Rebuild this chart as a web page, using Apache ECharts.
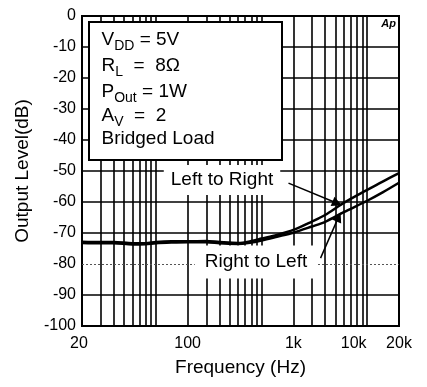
<!DOCTYPE html>
<html>
<head>
<meta charset="utf-8">
<script src="https://cdn.jsdelivr.net/npm/echarts@6/dist/echarts.min.js"></script>
<style>
html,body{margin:0;padding:0;background:#fff;}
#chart{width:427px;height:387px;}
</style>
</head>
<body>
<div id="chart"></div>
<script>
// ---- data (x values are in the plot's underlying log scale units) ----
const freq = [10, 15, 20, 30, 40, 50, 70, 100, 150, 200, 300, 400, 500, 700, 1000, 1500, 2000, 3000, 5000, 7000, 10000];
const leftToRight = [-72.8, -72.9, -72.9, -73.3, -73.3, -72.9, -72.7, -72.7, -72.6, -72.9, -73.2, -72.6, -71.8, -70.6, -69.0, -66.3, -64.2, -60.3, -56.1, -53.4, -50.7];
const rightToLeft = [-73.2, -73.3, -73.3, -73.7, -73.6, -73.3, -73.1, -73.0, -73.0, -73.3, -73.6, -73.1, -72.4, -71.2, -69.9, -67.9, -66.4, -63.3, -59.6, -56.9, -53.8];
const seriesNames = ['Left to Right', 'Right to Left'];

const xLabelValues = [10, 100, 1000, 5000, 10000];
const xLabelTexts = ['20', '100', '1k', '10k', '20k'];
const xGridValues = [15, 20, 25, 30, 35, 40, 45, 50, 100, 150, 200, 250, 300, 350, 400, 450, 500, 1000, 1500, 2000, 2500, 3000, 3500, 4000, 4500, 5000];
const yGridValues = [-90, -80, -70, -60, -50, -40, -30, -20, -10];

const legendLines = [
  ['V', 'DD', ' = 5V'],
  ['R', 'L', '  =  8Ω'],
  ['P', 'Out', ' = 1W'],
  ['A', 'V', '  =  2'],
  ['Bridged Load', '', '']
];
// arrow annotation end points [from, to] in data coords
const arrowLtoR = [[900, -53.9], [2600, -60.4]];
const arrowRtoL = [[1810, -78.1], [2680, -64.8]];

// ---- chart ----
const FONT = 'Liberation Sans, Arial, Helvetica, sans-serif';
const chart = echarts.init(document.getElementById('chart'), null, {renderer: 'canvas'});

function sameVal(a, b) { return Math.abs(Math.log10(a) - Math.log10(b)) < 1e-6; }

const gridLineData = [];
xGridValues.forEach(v => gridLineData.push({xAxis: v}));
yGridValues.forEach(v => {
  const item = {yAxis: v};
  if (v === -80) item.lineStyle = {type: [2, 2], color: '#555', width: 1};
  gridLineData.push(item);
});

function arrowMark(pts) {
  return {
    silent: true,
    symbol: ['none', 'triangle'],
    symbolSize: 10,
    label: {show: false},
    lineStyle: {color: '#000', width: 1.5, type: 'solid'},
    data: [[{coord: pts[0]}, {coord: pts[1]}]]
  };
}

const legendGraphics = legendLines.map((ln, i) => {
  const centers = [40, 66, 92, 116, 139];
  let txt = '{m|' + ln[0] + '}';
  if (ln[1]) txt += '{s|' + ln[1] + '}';
  if (ln[2]) txt += '{m|' + ln[2] + '}';
  return {
    type: 'text', x: 101.5, y: centers[i], z: 21,
    style: {
      text: txt, align: 'left', verticalAlign: 'middle',
      rich: {
        m: {fontSize: 19, fontFamily: FONT, fill: '#000', lineHeight: 20},
        s: {fontSize: 14, fontFamily: FONT, fill: '#000', lineHeight: 14, padding: [12, 0, 0, 0]}
      }
    }
  };
});

const option = {
  animation: false,
  backgroundColor: '#fff',
  grid: {left: 82, right: 28, top: 16, bottom: 61, show: true, borderColor: '#000', borderWidth: 2, backgroundColor: 'transparent'},
  xAxis: {
    type: 'log', logBase: 10, min: 10, max: 10000,
    name: 'Frequency (Hz)', nameLocation: 'middle', nameGap: 32,
    nameTextStyle: {fontSize: 19, fontFamily: FONT, color: '#000'},
    axisLine: {show: false},
    axisTick: {show: false},
    splitLine: {show: false},
    minorSplitLine: {show: false},
    axisLabel: {
      customValues: xLabelValues,
      fontSize: 16, fontFamily: FONT, color: '#000', margin: 10,
      formatter: function (value) {
        for (let i = 0; i < xLabelValues.length; i++) {
          if (sameVal(value, xLabelValues[i])) {
            const t = xLabelTexts[i];
            if (i === 0) return '{a|' + t + '}';
            if (i === 3) return '{b|' + t + '}';
            return '{n|' + t + '}';
          }
        }
        return '';
      },
      rich: {
        n: {fontSize: 16, fontFamily: FONT, color: '#000'},
        a: {fontSize: 16, fontFamily: FONT, color: '#000', padding: [0, 6, 0, 0]},
        b: {fontSize: 16, fontFamily: FONT, color: '#000', padding: [0, 27, 0, 0]}
      }
    }
  },
  yAxis: {
    type: 'value', min: -100, max: 0, interval: 10,
    name: 'Output Level(dB)', nameLocation: 'middle', nameGap: 50, nameRotate: 90,
    nameTextStyle: {fontSize: 19, fontFamily: FONT, color: '#000'},
    axisLine: {show: false},
    axisTick: {show: false},
    splitLine: {show: false},
    axisLabel: {fontSize: 16, fontFamily: FONT, color: '#000', margin: 6}
  },
  series: [
    {
      type: 'line', name: 'grid', data: [], z: 1, silent: true,
      markLine: {
        silent: true, symbol: 'none', label: {show: false},
        lineStyle: {color: '#000', width: 1.6, type: 'solid'},
        emphasis: {disabled: true},
        data: gridLineData
      }
    },
    {
      type: 'line', name: seriesNames[0], z: 5, silent: true,
      data: freq.map((f, i) => [f, leftToRight[i]]),
      showSymbol: false, smooth: 0.3,
      lineStyle: {color: '#000', width: 2.5},
      markLine: arrowMark(arrowLtoR)
    },
    {
      type: 'line', name: seriesNames[1], z: 5, silent: true,
      data: freq.map((f, i) => [f, rightToLeft[i]]),
      showSymbol: false, smooth: 0.3,
      lineStyle: {color: '#000', width: 2.5},
      markLine: arrowMark(arrowRtoL)
    }
  ],
  graphic: [
    {
      type: 'rect', z: 20,
      shape: {x: 89, y: 22, width: 193, height: 138},
      style: {fill: '#fff', stroke: '#000', lineWidth: 2}
    }
  ].concat(legendGraphics).concat([
    {
      type: 'text', x: 396, y: 24, z: 21,
      style: {text: 'Ap', align: 'right', verticalAlign: 'middle', font: 'italic bold 11px ' + FONT, fill: '#000'}
    },
    {
      type: 'text', x: 222, y: 180, z: 21,
      style: {
        text: seriesNames[0], align: 'center', verticalAlign: 'middle',
        fontSize: 19, fontFamily: FONT, fill: '#000', lineHeight: 20,
        backgroundColor: '#fff', padding: [5, 7, 5, 7]
      }
    },
    {
      type: 'text', x: 256, y: 262, z: 21,
      style: {
        text: seriesNames[1], align: 'center', verticalAlign: 'middle',
        fontSize: 19, fontFamily: FONT, fill: '#000', lineHeight: 20,
        backgroundColor: '#fff', padding: [6, 10, 7, 10]
      }
    }
  ])
};
chart.setOption(option);
</script>
</body>
</html>
